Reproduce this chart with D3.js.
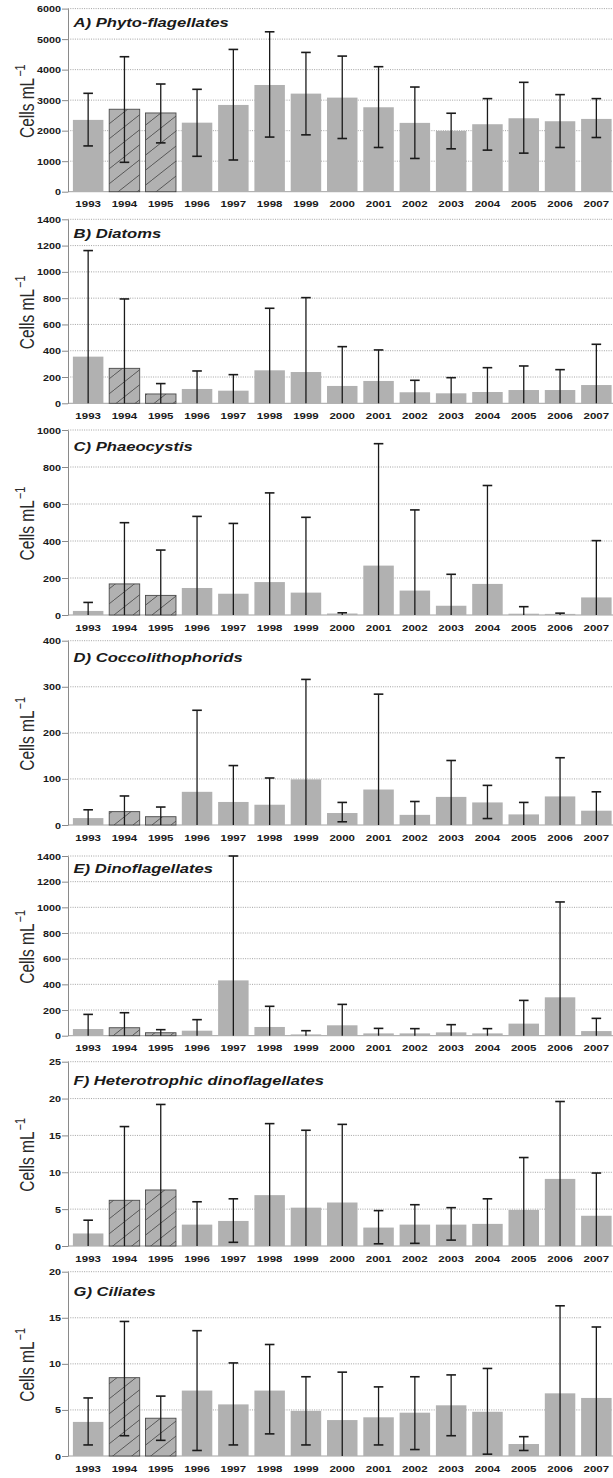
<!DOCTYPE html>
<html>
<head>
<meta charset="utf-8">
<script src="https://cdn.jsdelivr.net/npm/d3@7"></script>
<style>
  body { margin: 0; background: #fff; }
  svg { display: block; font-family: Arial, "Liberation Sans", sans-serif; }
</style>
</head>
<body>
<svg id="chart" width="613" height="1478"></svg>
<script>
const years = ["1993","1994","1995","1996","1997","1998","1999","2000","2001","2002","2003","2004","2005","2006","2007"];
const hatchedYears = ["1994","1995"];

// A) Phyto-flagellates
const phytoMean  = [2353, 2702, 2580, 2262, 2843, 3497, 3214, 3083, 2767, 2255, 1993, 2211, 2407, 2309, 2385];
const phytoUpper = [3224, 4423, 3529, 3355, 4662, 5240, 4564, 4444, 4096, 3430, 2571, 3050, 3584, 3181, 3050];
const phytoLower = [1500, 963, 1600, 1160, 1039, 1790, 1863, 1743, 1449, 1089, 1405, 1362, 1264, 1449, 1776];
const phytoTicks = [0, 1000, 2000, 3000, 4000, 5000, 6000];

// B) Diatoms
const diatomMean  = [355, 266, 71, 109, 96, 251, 238, 132, 170, 84, 76, 86, 101, 101, 139];
const diatomUpper = [1162, 794, 150, 246, 218, 723, 804, 431, 406, 175, 195, 271, 284, 256, 449];
const diatomLower = [0, 0, 0, 0, 0, 0, 0, 0, 0, 0, 0, 0, 0, 0, 0];
const diatomTicks = [0, 200, 400, 600, 800, 1000, 1200, 1400];

// C) Phaeocystis
const phaeoMean  = [22, 168, 106, 146, 115, 178, 121, 8, 267, 132, 50, 168, 7, 6, 95];
const phaeoUpper = [68, 499, 351, 533, 495, 660, 528, 12, 926, 568, 220, 700, 45, 10, 402];
const phaeoLower = [0, 0, 0, 0, 0, 0, 0, 0, 0, 0, 0, 0, 0, 0, 0];
const phaeoTicks = [0, 200, 400, 600, 800, 1000];

// D) Coccolithophorids
const coccoMean  = [15, 29, 18, 72, 50, 44, 99, 26, 77, 22, 61, 49, 23, 62, 31];
const coccoUpper = [33, 63, 39, 249, 129, 102, 316, 49, 284, 51, 140, 86, 49, 146, 72];
const coccoLower = [0, 0, 0, 0, 0, 0, 0, 7, 0, 0, 0, 14, 0, 0, 0];
const coccoTicks = [0, 100, 200, 300, 400];

// E) Dinoflagellates
const dinoMean  = [52, 62, 23, 39, 431, 68, 10, 81, 18, 18, 26, 18, 94, 299, 36];
const dinoUpper = [166, 179, 47, 125, 1400, 229, 39, 244, 57, 55, 86, 55, 275, 1042, 135];
const dinoLower = [0, 0, 0, 0, 0, 0, 0, 0, 0, 0, 0, 0, 0, 0, 0];
const dinoTicks = [0, 200, 400, 600, 800, 1000, 1200, 1400];

// F) Heterotrophic dinoflagellates
const hetMean  = [1.7, 6.2, 7.6, 2.9, 3.4, 6.9, 5.2, 5.9, 2.5, 2.9, 2.9, 3.0, 4.9, 9.1, 4.1];
const hetUpper = [3.5, 16.2, 19.2, 6.0, 6.4, 16.6, 15.7, 16.5, 4.8, 5.6, 5.2, 6.4, 12.0, 19.6, 9.9];
const hetLower = [0, 0, 0, 0, 0.5, 0, 0, 0, 0.3, 0.36, 0.8, 0, 0, 0, 0];
const hetTicks = [0, 5, 10, 15, 20, 25];

// G) Ciliates
const cilMean  = [3.7, 8.5, 4.1, 7.1, 5.6, 7.1, 4.9, 3.9, 4.2, 4.7, 5.5, 4.8, 1.3, 6.8, 6.3];
const cilUpper = [6.3, 14.6, 6.5, 13.6, 10.1, 12.1, 8.6, 9.1, 7.5, 8.6, 8.8, 9.5, 2.1, 16.3, 14.0];
const cilLower = [1.2, 2.2, 1.7, 0.6, 1.2, 2.4, 1.2, 0, 1.2, 0.7, 2.2, 0.2, 0.6, 0, 0];
const cilTicks = [0, 5, 10, 15, 20];

const panels = [
  { title: "A) Phyto-flagellates", mean: phytoMean, upper: phytoUpper, lower: phytoLower, ticks: phytoTicks },
  { title: "B) Diatoms", mean: diatomMean, upper: diatomUpper, lower: diatomLower, ticks: diatomTicks },
  { title: "C) Phaeocystis", mean: phaeoMean, upper: phaeoUpper, lower: phaeoLower, ticks: phaeoTicks },
  { title: "D) Coccolithophorids", mean: coccoMean, upper: coccoUpper, lower: coccoLower, ticks: coccoTicks },
  { title: "E) Dinoflagellates", mean: dinoMean, upper: dinoUpper, lower: dinoLower, ticks: dinoTicks },
  { title: "F) Heterotrophic dinoflagellates", mean: hetMean, upper: hetUpper, lower: hetLower, ticks: hetTicks },
  { title: "G) Ciliates", mean: cilMean, upper: cilUpper, lower: cilLower, ticks: cilTicks }
];

// pixel rows of each panel's plot area
const panelTop    = [8.6, 219.3, 430, 640.7, 856, 1061.7, 1271.7];
const panelBottom = [191.7, 403.3, 615, 825, 1035.7, 1246, 1456];
const titleDy     = [18, 19, 21, 21, 17, 23, 24];

const axisX = 68, plotRight = 613;
const stretch = 1.3;   // the figure's text is widened
const barFill = '#b1b1b1';
const ink = '#1a1a1a';

const svg = d3.select('#chart');

// hatch for 1994-95
const pat = svg.append('defs').append('pattern')
  .attr('id', 'hatch')
  .attr('patternUnits', 'userSpaceOnUse')
  .attr('width', 19).attr('height', 15);
pat.append('rect').attr('width', 19).attr('height', 15).attr('fill', barFill);
pat.append('path')
  .attr('d', 'M-2,16.58L21,-1.58')
  .attr('stroke', '#4d4d4d').attr('stroke-width', 0.9);

const xScale = d3.scaleBand()
  .domain(years)
  .range([70, 614.5])
  .paddingInner(0.16)
  .paddingOuter(0.08);

function widen(sel, k) {
  sel.each(function () {
    const len = this.getComputedTextLength();
    d3.select(this).attr('textLength', len * k).attr('lengthAdjust', 'spacingAndGlyphs');
  });
}

panels.forEach((p, i) => {
  const top = panelTop[i], bottom = panelBottom[i];
  const yScale = d3.scaleLinear()
    .domain([0, d3.max(p.ticks)])
    .range([bottom, top]);

  const g = svg.append('g').attr('class', 'panel');

  // dotted grid lines
  g.selectAll('.grid')
    .data(p.ticks.filter(t => t > 0))
    .enter().append('line')
    .attr('class', 'grid')
    .attr('x1', axisX).attr('x2', plotRight)
    .attr('y1', d => yScale(d)).attr('y2', d => yScale(d))
    .attr('stroke', '#999')
    .attr('stroke-width', 0.9)
    .attr('stroke-dasharray', '1,1.3');

  // zero line
  g.append('line')
    .attr('x1', axisX).attr('x2', plotRight)
    .attr('y1', yScale(0)).attr('y2', yScale(0))
    .attr('stroke', '#a0a0a0').attr('stroke-width', 1);

  // y axis
  const yAxisG = g.append('g')
    .attr('transform', `translate(${axisX},0)`)
    .call(d3.axisLeft(yScale).tickValues(p.ticks).tickFormat(d3.format('d'))
      .tickSize(6).tickPadding(1).tickSizeOuter(0));
  yAxisG.select('.domain').attr('stroke', '#8a8a8a');
  yAxisG.selectAll('.tick line').attr('stroke', '#8a8a8a');
  yAxisG.selectAll('.tick text')
    .attr('fill', ink)
    .style('font-size', '8.3px')
    .style('font-weight', 'bold')
    .attr('dy', '0.36em')
    .call(widen, stretch);

  // bars
  g.selectAll('.bar')
    .data(years)
    .enter().append('rect')
    .attr('class', 'bar')
    .attr('x', d => xScale(d))
    .attr('width', xScale.bandwidth())
    .attr('y', (d, j) => yScale(p.mean[j]))
    .attr('height', (d, j) => yScale(0) - yScale(p.mean[j]))
    .attr('fill', d => hatchedYears.includes(d) ? 'url(#hatch)' : barFill)
    .attr('stroke', d => hatchedYears.includes(d) ? '#4a4a4a' : 'none')
    .attr('stroke-width', 0.9);

  // error bars
  const err = g.selectAll('.err')
    .data(years)
    .enter().append('g')
    .attr('class', 'err')
    .attr('transform', d => `translate(${xScale(d) + xScale.bandwidth() / 2},0)`);
  err.append('line')
    .attr('y1', (d, j) => yScale(p.lower[j]))
    .attr('y2', (d, j) => yScale(p.upper[j]))
    .attr('stroke', ink).attr('stroke-width', 1.3);
  err.append('line')
    .attr('x1', -4.8).attr('x2', 4.8)
    .attr('y1', (d, j) => yScale(p.upper[j]))
    .attr('y2', (d, j) => yScale(p.upper[j]))
    .attr('stroke', ink).attr('stroke-width', 1.6);
  err.filter((d, j) => p.lower[j] > 0).append('line')
    .attr('x1', -4.8).attr('x2', 4.8)
    .attr('y1', d => yScale(p.lower[years.indexOf(d)]))
    .attr('y2', d => yScale(p.lower[years.indexOf(d)]))
    .attr('stroke', ink).attr('stroke-width', 1.6);

  // year labels
  g.selectAll('.year')
    .data(years)
    .enter().append('text')
    .attr('class', 'year')
    .attr('x', d => xScale(d) + xScale.bandwidth() / 2)
    .attr('y', bottom + 15.5)
    .attr('text-anchor', 'middle')
    .attr('fill', ink)
    .style('font-size', '8.5px')
    .style('font-weight', 'bold')
    .text(d => d)
    .call(widen, 1.35);

  // panel title
  g.append('text')
    .attr('x', 73.5)
    .attr('y', top + titleDy[i])
    .attr('fill', ink)
    .style('font-size', '13px')
    .style('font-weight', 'bold')
    .style('font-style', 'italic')
    .text(p.title)
    .call(widen, 1.28);

  // y label
  const lab = g.append('text')
    .attr('transform', `translate(33.5,${(top + bottom) / 2 + 1}) rotate(-90) scale(1,1.25)`)
    .attr('text-anchor', 'middle')
    .attr('fill', '#2a2a2a')
    .style('font-size', '15.5px');
  lab.append('tspan').text('Cells mL');
  lab.append('tspan').attr('dy', -6.5).attr('dx', 1).style('font-size', '11px').text('\u22121');
});
</script>
</body>
</html>
